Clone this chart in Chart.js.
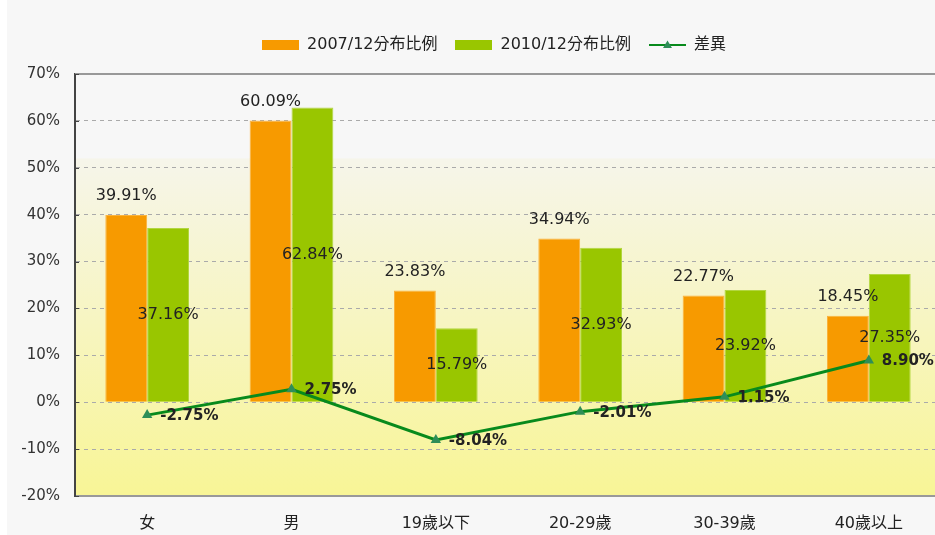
<!DOCTYPE html>
<html>
<head>
<meta charset="utf-8">
<script src="https://cdn.jsdelivr.net/npm/chart.js@4.4.1/dist/chart.umd.min.js"></script>
<style>
html, body { margin: 0; padding: 0; background: #fff; overflow: hidden; }
#wrap { position: absolute; left: 7px; top: 0; width: 940px; height: 535px; background: #f7f7f7; }
</style>
</head>
<body>
<div id="wrap"><canvas id="chart" width="940" height="535"></canvas></div>
<script>
var categories = ['女', '男', '19歲以下', '20-29歲', '30-39歲', '40歲以上'];
var dist2007 = [39.91, 60.09, 23.83, 34.94, 22.77, 18.45];
var dist2010 = [37.16, 62.84, 15.79, 32.93, 23.92, 27.35];
var diff = [-2.75, 2.75, -8.04, -2.01, 1.15, 8.90];
var seriesNames = ['2007/12分布比例', '2010/12分布比例', '差異'];

var orange = '#f79a00';
var green = '#99c600';
var lineGreen = '#088a1c';
var markerGreen = '#2e8e58';
var font = '"DejaVu Sans", "Noto Sans CJK TC", sans-serif';

function legendIcon(kind, color) {
  var c = document.createElement('canvas');
  c.width = 37; c.height = 12;
  var g = c.getContext('2d');
  if (kind == 'bar') {
    g.fillStyle = color;
    g.fillRect(0, 1, 37, 10);
  } else {
    g.strokeStyle = color;
    g.lineWidth = 2;
    g.beginPath(); g.moveTo(0, 6); g.lineTo(37, 6); g.stroke();
    g.fillStyle = markerGreen;
    g.beginPath(); g.moveTo(18.5, 1.5); g.lineTo(23, 9); g.lineTo(14, 9); g.closePath(); g.fill();
  }
  return c;
}
var icons = [legendIcon('bar', orange), legendIcon('bar', green), legendIcon('line', lineGreen)];

// plot background: plain on top, yellow gradient below ~52%
var plotBg = {
  id: 'plotBg',
  beforeDraw: function(chart) {
    var a = chart.chartArea, ctx = chart.ctx, y = chart.scales.y;
    var start = y.getPixelForValue(52);
    var grad = ctx.createLinearGradient(0, start, 0, a.bottom);
    grad.addColorStop(0, '#f6f5ea');
    grad.addColorStop(1, '#f8f596');
    ctx.save();
    ctx.fillStyle = grad;
    ctx.fillRect(a.left, start, a.right - a.left, a.bottom - start);
    ctx.restore();
  },
  afterDraw: function(chart) {
    var a = chart.chartArea, ctx = chart.ctx, y = chart.scales.y;
    ctx.save();
    ctx.strokeStyle = '#999';
    ctx.lineWidth = 2;
    ctx.beginPath(); ctx.moveTo(a.left, a.top); ctx.lineTo(a.right, a.top); ctx.stroke();
    ctx.strokeStyle = '#444';
    ctx.lineWidth = 1;
    y.ticks.forEach(function(t) {
      var py = Math.round(y.getPixelForValue(t.value)) + 0.5;
      ctx.beginPath(); ctx.moveTo(a.left, py); ctx.lineTo(a.left + 4, py); ctx.stroke();
    });
    ctx.restore();
  }
};

var valueLabels = {
  id: 'valueLabels',
  afterDatasetsDraw: function(chart) {
    var ctx = chart.ctx;
    ctx.save();
    ctx.fillStyle = '#222';
    ctx.textBaseline = 'middle';
    ctx.textAlign = 'center';
    ctx.font = '16px ' + font;
    chart.getDatasetMeta(0).data.forEach(function(bar, i) {
      ctx.fillText(dist2007[i].toFixed(2) + '%', bar.x, bar.y - 19);
    });
    chart.getDatasetMeta(1).data.forEach(function(bar, i) {
      ctx.fillText(dist2010[i].toFixed(2) + '%', bar.x, (bar.y + bar.base) / 2);
    });
    ctx.textAlign = 'left';
    ctx.font = 'bold 15px ' + font;
    chart.getDatasetMeta(2).data.forEach(function(pt, i) {
      ctx.fillText(diff[i].toFixed(2) + '%', pt.x + 13, pt.y + 1);
    });
    ctx.restore();
  }
};

// extra room under the legend, and the legend sits a bit right of centre
var legendGap = {
  id: 'legendGap',
  beforeInit: function(chart) {
    var fit = chart.legend.fit;
    chart.legend.fit = function() {
      fit.bind(chart.legend)();
      this.height += 11;
    };
  },
  afterLayout: function(chart) {
    chart.legend.left += 18;
    chart.legend.right += 18;
  }
};

new Chart(document.getElementById('chart'), {
  type: 'bar',
  data: {
    labels: categories,
    datasets: [
      {
        label: seriesNames[0],
        data: dist2007,
        backgroundColor: orange,
        borderColor: '#fab23c',
        borderWidth: 1,
        barPercentage: 1,
        categoryPercentage: 0.58
      },
      {
        label: seriesNames[1],
        data: dist2010,
        backgroundColor: green,
        borderColor: '#b2d640',
        borderWidth: 1,
        barPercentage: 1,
        categoryPercentage: 0.58
      },
      {
        type: 'line',
        label: seriesNames[2],
        data: diff,
        borderColor: lineGreen,
        borderWidth: 3,
        backgroundColor: markerGreen,
        pointStyle: 'triangle',
        pointRadius: 6,
        pointBorderWidth: 0,
        tension: 0,
        order: -1
      }
    ]
  },
  options: {
    responsive: false,
    animation: false,
    layout: { padding: { top: 19, right: 2, bottom: 0, left: 0 } },
    plugins: {
      tooltip: { enabled: false },
      legend: {
        position: 'top',
        labels: {
          usePointStyle: true,
          pointStyleWidth: 37,
          padding: 18,
          color: '#222',
          font: { family: font, size: 16 },
          generateLabels: function(chart) {
            return seriesNames.map(function(name, i) {
              return { text: name, pointStyle: icons[i], datasetIndex: i, hidden: false, lineWidth: 0, fontColor: '#222' };
            });
          }
        }
      }
    },
    scales: {
      x: {
        afterFit: function(scale) { scale.height = 39; },
        grid: { display: false },
        border: { color: '#999', width: 2 },
        ticks: { color: '#222', font: { family: font, size: 16 }, padding: 10 }
      },
      y: {
        min: -20,
        max: 70,
        afterFit: function(scale) { scale.width = 68; },
        grid: {
          drawTicks: false,
          color: function(c) { return (c.tick.value === 70 || c.tick.value === -20) ? 'rgba(0,0,0,0)' : '#aaa'; }
        },
        border: { color: '#444', width: 2, dash: [4, 4] },
        ticks: {
          stepSize: 10,
          padding: 15,
          color: '#333',
          font: { family: font, size: 15 },
          callback: function(v) { return v + '%'; }
        }
      }
    }
  },
  plugins: [plotBg, valueLabels, legendGap]
});
</script>
</body>
</html>
